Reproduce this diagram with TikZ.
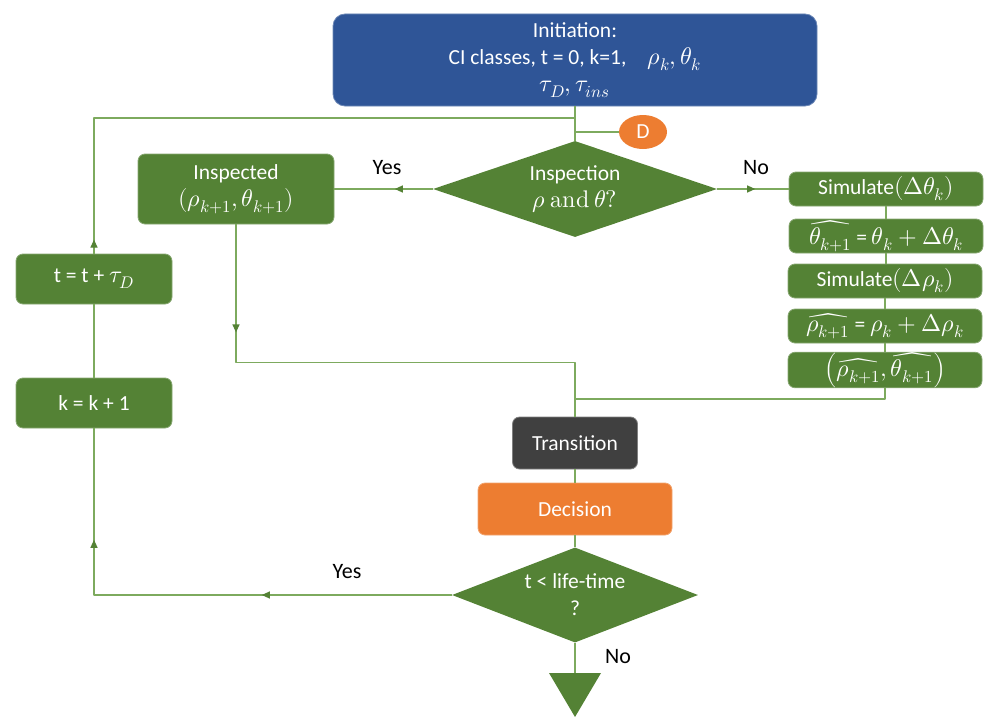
\documentclass[tikz,border=0pt]{standalone}
\usepackage{amsmath}
\usepackage{unicode-math}
\setmainfont{Carlito}
\setmathfont{Latin Modern Math}[Scale=1.12]
\usetikzlibrary{shapes.geometric,arrows.meta,decorations.markings}
\definecolor{initblue}{HTML}{2F5597}
\definecolor{flowgreen}{HTML}{548235}
\definecolor{wiregreen}{HTML}{7DAA5E}
\definecolor{decorange}{HTML}{ED7D31}
\definecolor{transgray}{HTML}{404040}
\begin{document}
\begin{tikzpicture}[x=1pt, y=-1pt, font=\fontsize{21.5}{27}\selectfont, line join=round,
	box/.style={rectangle, rounded corners=7pt, fill=flowgreen, draw=flowgreen!70!white, line width=.8pt, text=white, align=center, inner sep=0pt},
	ask/.style={diamond, fill=flowgreen, text=white, align=center, inner sep=0pt, aspect=2.6},
	wire/.style={draw=wiregreen, line width=1.2pt},
	midtip/.style={postaction={decorate, decoration={markings, mark=at position #1 with {\arrow[flowgreen]{Triangle[length=8pt, width=7pt]}}}}},
	answer/.style={font=\fontsize{22}{26}\selectfont}]
	\def\wsim{194pt} \def\hsim{34pt} % simulate boxes
	\useasboundingbox (0,0) rectangle (984,717);
	% top part
	\node[box, fill=initblue, draw=initblue!70!white, rounded corners=12pt, minimum width=484pt, minimum height=92pt] (init) at (575,60) {Initiation:\\CI classes, t = 0, k=1,\quad $\rho_k,\theta_k$\\$\tau_D,\tau_{ins}$};
	\node[ask, minimum width=284pt, minimum height=96pt] (insp) at (575,189) {Inspection\\$\rho\ \symup{and}\ \theta?$};
	\node[ellipse, fill=decorange, text=white, minimum width=48pt, minimum height=34pt, inner sep=0pt] (dflag) at (643,132) {D};
	\node[box, minimum width=196pt, minimum height=70pt] (inspd) at (236,189) {Inspected\\$(\rho_{k+1},\theta_{k+1})$};
	\node[answer] (yesa) at (387,168) {Yes};
	\node[answer] (noa) at (756,168) {No};
	% simulate column
	\node[box, minimum width=\wsim, minimum height=\hsim] (sim1) at (886,189) {Simulate$(\Delta\theta_k)$};
	\node[box, minimum width=\wsim, minimum height=\hsim] (sim2) at (886,236) {$\widehat{\theta_{k+1}}$ = $\theta_k+\Delta\theta_k$};
	\node[box, minimum width=\wsim, minimum height=\hsim] (sim3) at (885,281) {Simulate$(\Delta\rho_k)$};
	\node[box, minimum width=\wsim, minimum height=\hsim] (sim4) at (885,326) {$\widehat{\rho_{k+1}}$ = $\rho_k+\Delta\rho_k$};
	\node[box, minimum width=\wsim, minimum height=\hsim] (sim5) at (885,370) {$\left(\widehat{\rho_{k+1}},\widehat{\theta_{k+1}}\right)$};
	% bottom part
	\node[box, fill=transgray, draw=gray, minimum width=125pt, minimum height=52pt] (trans) at (575,443) {Transition};
	\node[box, fill=decorange, draw=decorange!70!white, minimum width=194pt, minimum height=52pt] (decide) at (575,509) {Decision};
	\node[ask, minimum width=246pt, minimum height=95pt] (life) at (575,595) {t < life-time\\?};
	\node[answer] (yesb) at (347,572) {Yes};
	\node[answer] (nob) at (618,657) {No};
	\node[box, minimum width=156pt, minimum height=50pt] (tstep) at (94,279) {t = t + $\tau_D$};
	\node[box, minimum width=156pt, minimum height=50pt] (kstep) at (94,403) {k = k + 1};
	\coordinate (ends) at (575,673);
	\fill[flowgreen] (ends) ++(-26,0) -- ++(52,0) -- (575,717) -- cycle;
	% connectors
	\coordinate (jtop) at (575,118);
	\coordinate (jmid) at (575,399);
	\draw[wire] (init.south) -- (insp.north);
	\draw[wire, midtip=14pt] (tstep.north) -- (tstep.north |- jtop) -- (jtop);
	\draw[wire] (dflag.west) -- (dflag.west -| insp.north);
	\draw[wire, midtip=38pt] (insp.west) -- (inspd.east);
	\draw[wire, midtip=38pt] (insp.east) -- (sim1.west);
	\foreach \a/\b in {sim1/sim2, sim2/sim3, sim3/sim4, sim4/sim5}
		\draw[wire] (\a.south) -- (\a.south |- \b.north);
	\draw[wire, midtip=108pt] (inspd.south) -- ++(0,138) -| (trans.north);
	\draw[wire] (sim5.south) |- (jmid);
	\draw[wire] (trans.south) -- (decide.north);
	\draw[wire] (decide.south) -- (life.north);
	\draw[wire, midtip=190pt, midtip=413pt] (life.west) -| (kstep.south);
	\draw[wire] (kstep.north) -- (tstep.south);
	\draw[wire] (life.south) -- (ends);
\end{tikzpicture}
\end{document}
